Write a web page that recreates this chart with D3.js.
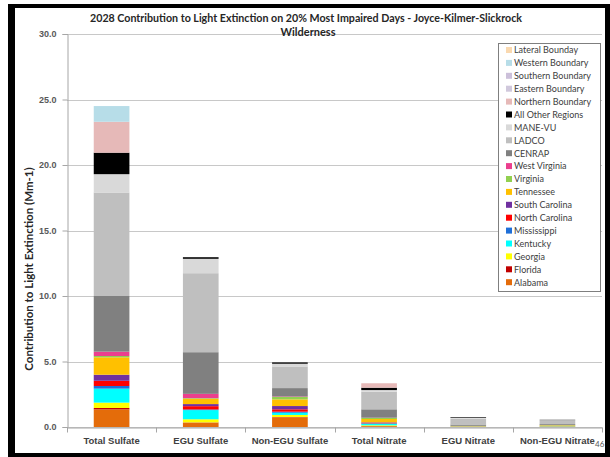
<!DOCTYPE html>
<html>
<head>
<meta charset="utf-8">
<script src="https://cdn.jsdelivr.net/npm/d3@7"></script>
<style>
  html, body { margin: 0; padding: 0; background: #fff; }
  svg { display: block; font-family: Lato, "Open Sans", "Liberation Sans", sans-serif; }
</style>
</head>
<body>
<svg id="chart" width="610" height="457"></svg>
<script>
// ---- data ----
const categories = ["Total Sulfate", "EGU Sulfate", "Non-EGU Sulfate", "Total Nitrate", "EGU Nitrate", "Non-EGU Nitrate"];
const yTicks = [0, 5, 10, 15, 20, 25, 30];

const alabama       = [1.35, 0.33, 0.74, 0.06, 0.02, 0.03];
const florida       = [0.10, 0.02, 0.02, 0.01, 0.00, 0.00];
const georgia       = [0.41, 0.24, 0.16, 0.06, 0.01, 0.02];
const kentucky      = [1.07, 0.70, 0.17, 0.12, 0.02, 0.02];
const mississippi   = [0.20, 0.05, 0.08, 0.03, 0.00, 0.00];
const northCarolina = [0.40, 0.25, 0.18, 0.05, 0.01, 0.01];
const southCarolina = [0.46, 0.16, 0.25, 0.03, 0.00, 0.00];
const tennessee     = [1.33, 0.40, 0.51, 0.25, 0.02, 0.04];
const virginia      = [0.10, 0.05, 0.18, 0.08, 0.01, 0.02];
const westVirginia  = [0.33, 0.33, 0.04, 0.02, 0.00, 0.00];
const cenrap        = [4.25, 3.18, 0.64, 0.64, 0.10, 0.08];
const ladco         = [7.90, 6.03, 1.65, 1.34, 0.45, 0.26];
const maneVu        = [1.40, 1.10, 0.21, 0.13, 0.05, 0.04];
const allOther      = [1.64, 0.12, 0.10, 0.18, 0.05, 0.03];
const northernBnd   = [2.36, 0.00, 0.00, 0.34, 0.00, 0.00];
const easternBnd    = [0.00, 0.00, 0.00, 0.00, 0.00, 0.00];
const southernBnd   = [0.00, 0.00, 0.00, 0.00, 0.00, 0.00];
const westernBnd    = [1.20, 0.00, 0.00, 0.00, 0.00, 0.00];
const lateralBnd    = [0.00, 0.00, 0.00, 0.00, 0.00, 0.00];

// stacking order bottom -> top
const sourceNames = ["Alabama", "Florida", "Georgia", "Kentucky", "Mississippi", "North Carolina",
  "South Carolina", "Tennessee", "Virginia", "West Virginia", "CENRAP", "LADCO", "MANE-VU",
  "All Other Regions", "Northern Boundary", "Eastern Boundary", "Southern Boundary",
  "Western Boundary", "Lateral Bounday"];
const sourceValues = [alabama, florida, georgia, kentucky, mississippi, northCarolina,
  southCarolina, tennessee, virginia, westVirginia, cenrap, ladco, maneVu, allOther,
  northernBnd, easternBnd, southernBnd, westernBnd, lateralBnd];
const sourceColors = ["#e46c0a", "#c00000", "#ffff00", "#00ffff", "#1f6fd8", "#ff0000",
  "#7030a0", "#ffc000", "#92d050", "#eb3f8e", "#808080", "#bfbfbf", "#d9d9d9",
  "#000000", "#e6b9b8", "#d0c8dc", "#ccc0da", "#b7dde8", "#fad9b0"];

// ---- build table ----
const table = categories.map((c, i) => {
  const row = { category: c };
  sourceNames.forEach((s, j) => { row[s] = sourceValues[j][i]; });
  return row;
});
const series = d3.stack().keys(sourceNames)(table);

const svg = d3.select("#chart");

svg.append("rect").attr("x", 0).attr("y", 0).attr("width", 610).attr("height", 457).attr("fill", "#fff");

const x = d3.scaleBand().domain(categories).range([67, 602]).paddingInner(0.6).paddingOuter(0.3);
const y = d3.scaleLinear().domain([0, 30]).range([427, 34]);

// gridlines
svg.append("g").selectAll("line").data(yTicks).join("line")
  .attr("x1", 67).attr("x2", 602)
  .attr("y1", d => Math.round(y(d)) + 0.5).attr("y2", d => Math.round(y(d)) + 0.5)
  .attr("stroke", "#c8c8c8").attr("stroke-width", 1);

// bars
svg.append("g").selectAll("g").data(series).join("g")
  .attr("fill", (d, i) => sourceColors[i])
  .selectAll("rect").data(d => d).join("rect")
  .attr("x", d => x(d.data.category))
  .attr("width", x.bandwidth())
  .attr("y", d => y(d[1]))
  .attr("height", d => Math.max(0, y(d[0]) - y(d[1])));

// y axis
const yAxis = svg.append("g").attr("transform", "translate(67.5,0)")
  .call(d3.axisLeft(y).tickValues(yTicks).tickFormat(d3.format(".1f")).tickSize(5).tickPadding(6));
yAxis.select(".domain").attr("stroke", "#a6a6a6");
yAxis.selectAll(".tick line").attr("stroke", "#a6a6a6");
yAxis.selectAll(".tick text").attr("fill", "#595959").attr("font-size", 9).attr("font-weight", "bold");

// x axis
const xAxis = svg.append("g").attr("transform", "translate(0,427.5)")
  .call(d3.axisBottom(x).tickSize(0).tickPadding(10));
xAxis.select(".domain").attr("stroke", "#a6a6a6");
xAxis.selectAll(".tick text").attr("fill", "#404040").attr("font-size", 9.5).attr("font-weight", "bold");
xAxis.selectAll("line.bnd").data(d3.range(categories.length + 1)).join("line")
  .attr("class", "bnd")
  .attr("x1", i => Math.round(x.range()[0] + i * x.step()) + 0.5)
  .attr("x2", i => Math.round(x.range()[0] + i * x.step()) + 0.5)
  .attr("y1", 0).attr("y2", 5).attr("stroke", "#a6a6a6");

// y title
svg.append("text")
  .attr("transform", "translate(33,269) rotate(-90)")
  .attr("text-anchor", "middle").attr("font-size", 11.5).attr("font-weight", "bold")
  .attr("fill", "#262626")
  .text("Contribution to Light Extinction (Mm-1)");

// title
svg.append("text").attr("x", 306).attr("y", 22).attr("text-anchor", "middle")
  .attr("font-size", 11).attr("font-weight", "bold").attr("fill", "#262626")
  .attr("textLength", 432).attr("lengthAdjust", "spacingAndGlyphs")
  .text("2028 Contribution to Light Extinction on 20% Most Impaired Days - Joyce-Kilmer-Slickrock");
svg.append("text").attr("x", 308).attr("y", 36).attr("text-anchor", "middle")
  .attr("font-size", 11).attr("font-weight", "bold").attr("fill", "#262626")
  .text("Wilderness");

// legend
const legend = svg.append("g");
legend.append("rect").attr("x", 498.5).attr("y", 43.5).attr("width", 102).attr("height", 248)
  .attr("fill", "#fff").attr("stroke", "#7f7f7f");
const legendOrder = d3.range(sourceNames.length).reverse();
const li = legend.selectAll("g.item").data(legendOrder).join("g").attr("class", "item")
  .attr("transform", (d, k) => `translate(506,${50 + k * 12.9})`);
li.append("rect").attr("x", 0).attr("y", -3).attr("width", 6).attr("height", 6)
  .attr("fill", d => sourceColors[d]);
li.append("text").attr("x", 8).attr("y", 3.3).attr("font-size", 9).attr("fill", "#404040")
  .text(d => sourceNames[d]);

// page number
svg.append("text").attr("x", 595).attr("y", 447).attr("font-size", 8).attr("fill", "#595959").text("46");

// outer black frame
svg.append("rect").attr("x", 8).attr("y", 4).attr("width", 7).attr("height", 453).attr("fill", "#000");
svg.append("rect").attr("x", 8).attr("y", 4).attr("width", 602).attr("height", 4).attr("fill", "#000");
svg.append("rect").attr("x", 605).attr("y", 4).attr("width", 5).attr("height", 453).attr("fill", "#000");
svg.append("rect").attr("x", 8).attr("y", 453).attr("width", 602).attr("height", 4).attr("fill", "#000");
</script>
</body>
</html>
